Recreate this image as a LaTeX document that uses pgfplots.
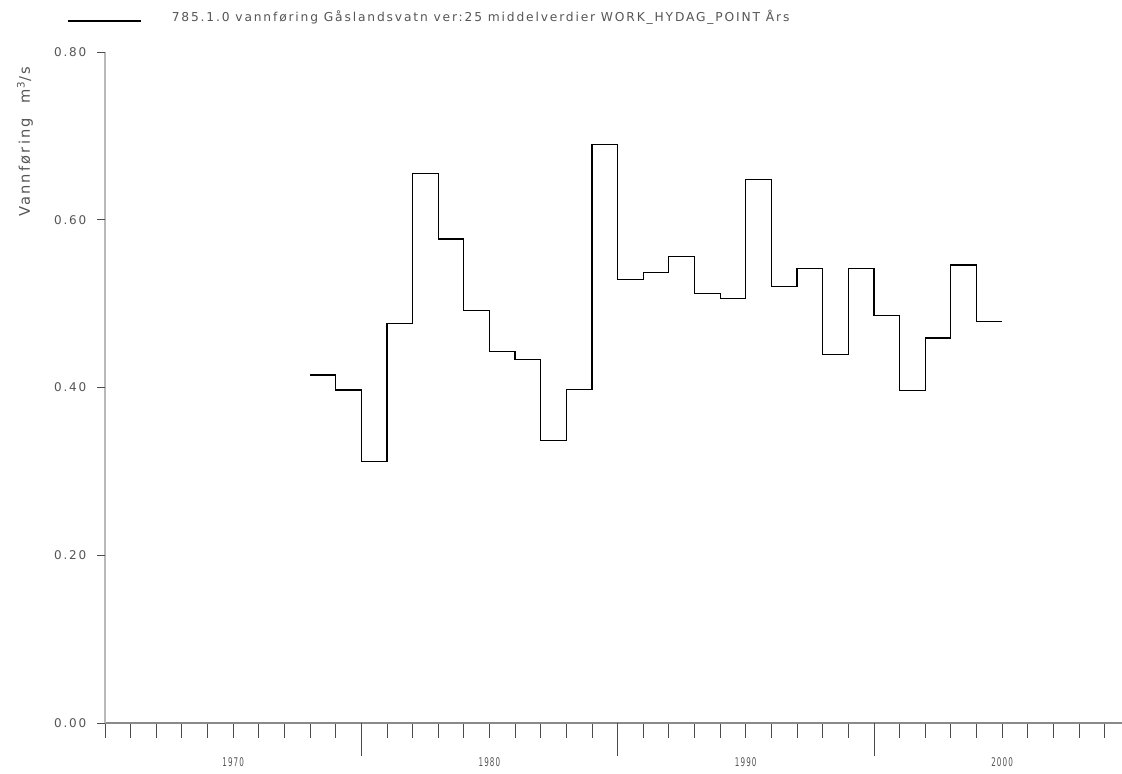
\documentclass[border=0pt]{standalone}
\usepackage{fontspec}
\usepackage{pgfplots}
\pgfplotsset{compat=1.18}
\newfontfamily\plotfont{DejaVu Sans}[LetterSpace=15]
\definecolor{txtgray}{HTML}{555555}
\definecolor{axgray}{HTML}{8A8A8A}
\begin{document}
\begin{tikzpicture}
\path[use as bounding box] (-78.75pt,-38.25pt) rectangle (762.75pt,542.25pt);
\begin{axis}[
  at={(0pt,0pt)}, anchor=south west,
  scale only axis, width=762.75pt, height=503.25pt,
  xmin=1965, xmax=2004.68, ymin=0, ymax=0.8,
  axis x line*=bottom, axis y line*=left,
  x axis line style={axgray, line width=1pt},
  y axis line style={gray!55, line width=1pt},
  tick align=outside,
  xtick={1970,1980,1990,2000},
  xticklabels={1970,1980,1990,2000},
  minor xtick={1965,1966,...,2004},
  major tick length=11.25pt, minor tick length=11.25pt,
  extra x ticks={1975,1985,1995},
  extra x tick labels={},
  extra x tick style={major tick length=24.75pt},
  ytick=\empty,
  extra y ticks={0,0.2,0.4,0.6,0.8},
  extra y tick labels={0.00,0.20,0.40,0.60,0.80},
  extra y tick style={major tick length=6pt},
  every tick/.style={black!70, line width=0.6pt},
  xticklabel style={font=\plotfont\fontsize{9}{10}\selectfont, txtgray, xscale=0.6, yshift=-11.5pt},
  yticklabel style={font=\plotfont\fontsize{9}{10}\selectfont, txtgray, xshift=-4.5pt},
  ylabel={Vannføring\quad m\textsuperscript{3}/s},
  ylabel style={font=\plotfont\fontsize{11}{13}\selectfont, txtgray, at={(axis description cs:-0.0787,0.866)}, anchor=center},
  legend style={draw=none, fill=none, at={(axis description cs:-0.0374,1.052)}, anchor=west,
    font=\plotfont\fontsize{9.2}{10}\selectfont, text=txtgray, inner sep=0pt},
  legend image code/.code={\draw[#1] (0pt,-3pt) -- (55pt,-3pt); \path[draw=none] (0pt,0pt) -- (76pt,0pt);},
]
\addplot[const plot, black, line width=0.9pt] coordinates {
(1973,0.415) (1974,0.397) (1975,0.312) (1976,0.476) (1977,0.655) (1978,0.577)
(1979,0.492) (1980,0.443) (1981,0.433) (1982,0.337) (1983,0.398) (1984,0.690)
(1985,0.529) (1986,0.537) (1987,0.556) (1988,0.512) (1989,0.506) (1990,0.648)
(1991,0.520) (1992,0.542) (1993,0.439) (1994,0.542) (1995,0.486) (1996,0.396)
(1997,0.459) (1998,0.546) (1999,0.479) (2000,0.479)
};
\addlegendentry{785.1.0 vannføring Gåslandsvatn ver:25 middelverdier WORK\_HYDAG\_POINT Års}
\end{axis}
\end{tikzpicture}
\end{document}
